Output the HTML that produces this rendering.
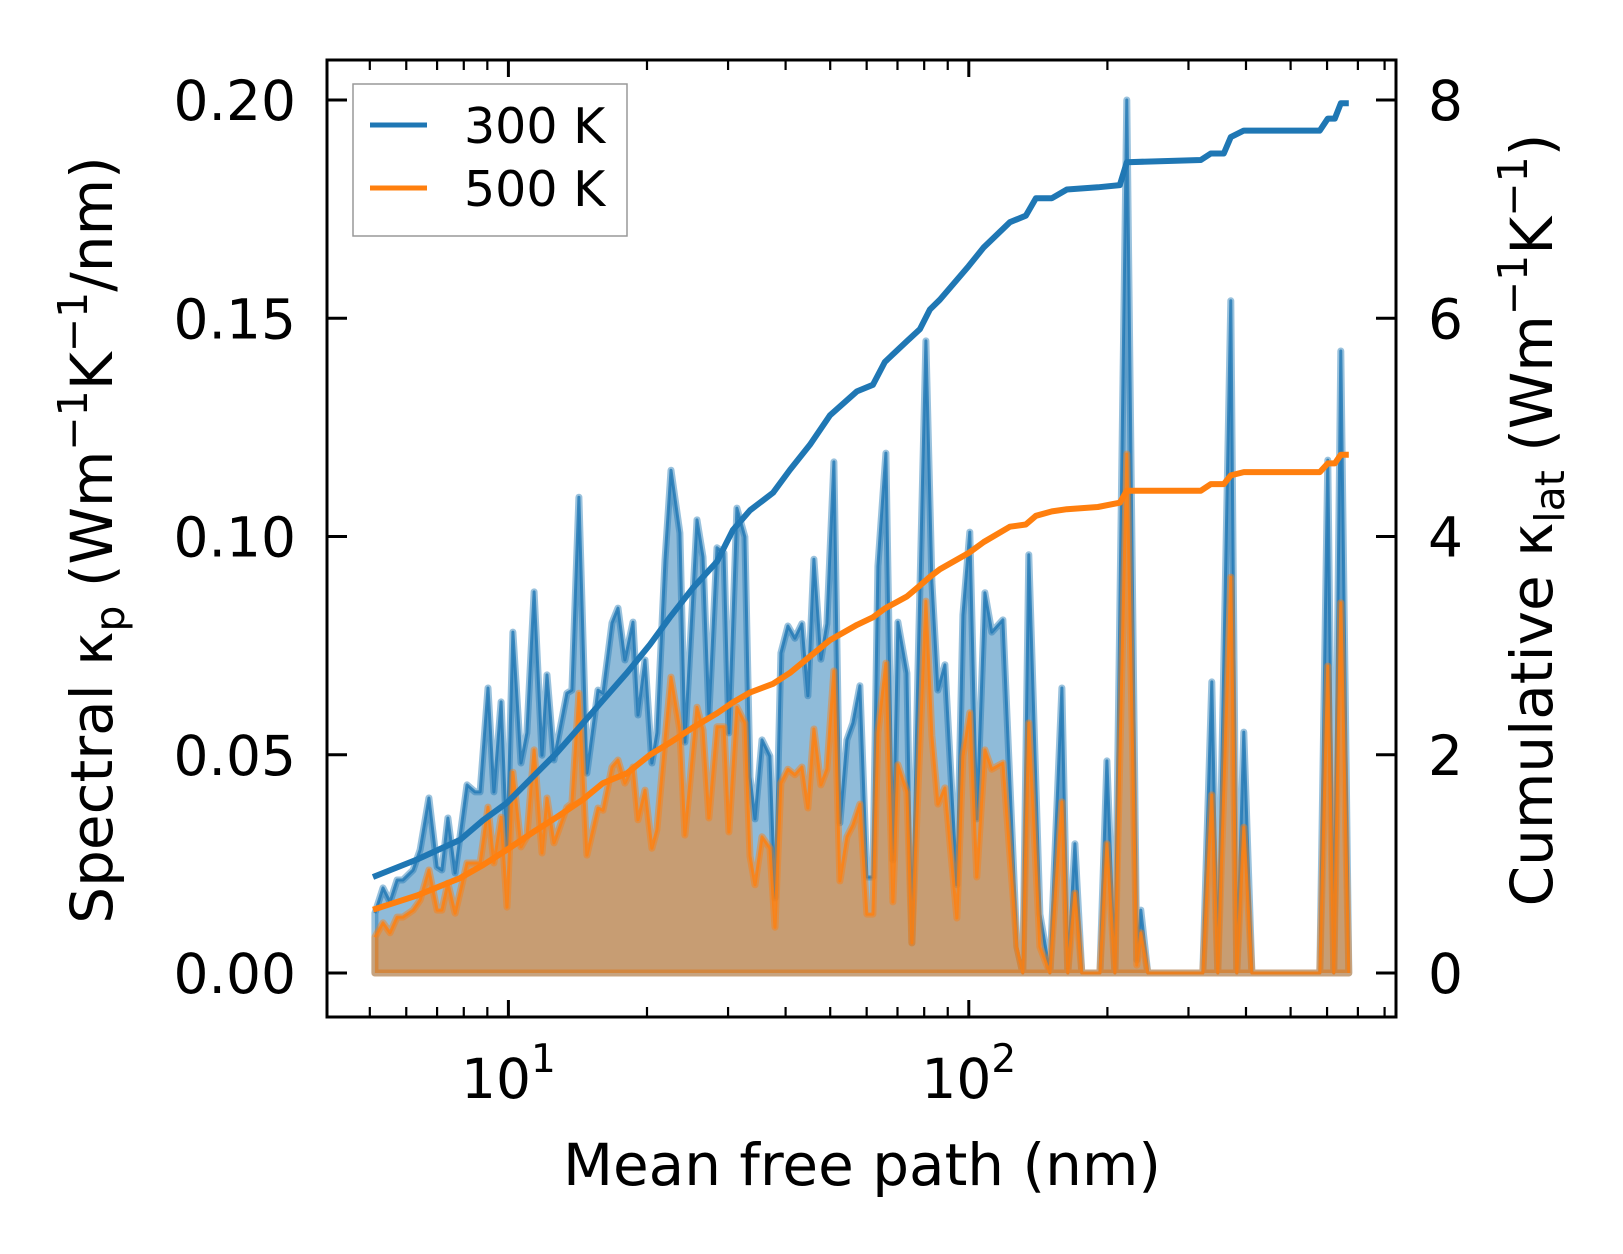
<!DOCTYPE html>
<html><head><meta charset="utf-8"><style>
html,body{margin:0;padding:0;background:#fff;}
svg{display:block;font-family:"DejaVu Sans","Liberation Sans",sans-serif;}
</style></head><body>
<svg id="chart" width="1623" height="1254" viewBox="0 0 1623 1254" xmlns="http://www.w3.org/2000/svg">
<g id="marks"></g>
<g id="axes"></g>
<text x="862" y="1185" text-anchor="middle" font-size="58">Mean free path (nm)</text>
<text transform="translate(112,540) rotate(-90)" text-anchor="middle" font-size="58">Spectral κ<tspan dy="12" font-size="41">p</tspan><tspan dy="-12"> (Wm</tspan><tspan dy="-25" font-size="41">−1</tspan><tspan dy="25">K</tspan><tspan dy="-25" font-size="41">−1</tspan><tspan dy="25">/nm)</tspan></text>
<text transform="translate(1552,520) rotate(-90)" text-anchor="middle" font-size="58">Cumulative κ<tspan dy="12" font-size="41">lat</tspan><tspan dy="-12"> (Wm</tspan><tspan dy="-25" font-size="41">−1</tspan><tspan dy="25">K</tspan><tspan dy="-25" font-size="41">−1</tspan><tspan dy="25">)</tspan></text>
</svg>
<script>
// ---- data ----
const mfp = [5.13,5.34,5.53,5.73,5.90,6.21,6.43,6.72,7.00,7.17,7.39,7.66,8.13,8.46,8.68,9.03,9.30,9.64,9.93,10.23,10.65,10.97,11.37,11.83,12.13,12.56,13.40,13.74,14.23,14.81,15.65,16.05,16.79,17.30,17.91,18.65,19.12,19.80,20.50,21.02,21.88,22.55,23.58,24.18,25.68,26.46,27.26,28.38,29.39,30.13,31.36,32.64,33.47,34.32,35.54,36.99,37.93,39.08,40.47,41.91,43.40,44.73,46.09,47.73,49.18,50.93,52.49,54.36,56.01,58.01,60.08,61.91,63.48,66.07,68.42,70.15,73.38,75.24,77.53,80.69,83.15,85.68,88.73,94.22,97.09,100.5,104.1,108.4,112.2,118.6,127.2,131.0,135.0,142.7,150.0,159.3,164.1,170.0,176.0,192.6,199.5,207.6,220.4,231.7,236.4,244.8,322.3,337.2,347.4,370.8,382.1,395.7,411.9,578.6,602.2,620.6,642.6,668.8];
const spec300 = [0.0137,0.0195,0.0163,0.0213,0.0213,0.0236,0.0282,0.0401,0.0243,0.0236,0.0355,0.0229,0.0431,0.0415,0.0415,0.0653,0.0415,0.0621,0.0289,0.0781,0.0481,0.0550,0.0873,0.0499,0.0683,0.0488,0.0641,0.0648,0.1090,0.0458,0.0648,0.0641,0.0802,0.0836,0.0717,0.0804,0.0591,0.0717,0.0481,0.0550,0.0946,0.1152,0.1008,0.0529,0.1038,0.0953,0.0591,0.0974,0.0962,0.0550,0.1065,0.0999,0.0449,0.0353,0.0534,0.0497,0.0172,0.0733,0.0795,0.0767,0.0800,0.0635,0.0948,0.0719,0.0800,0.1171,0.0344,0.0534,0.0573,0.0658,0.0220,0.0220,0.0932,0.1191,0.0259,0.0804,0.0687,0.0069,0.0687,0.1448,0.0896,0.0648,0.0706,0.0202,0.0820,0.1010,0.0353,0.0871,0.0781,0.0809,0.0060,0,0.0958,0.0135,0,0.0653,0,0.0296,0,0,0.0486,0,0.2000,0.003,0.0144,0,0,0.0667,0,0.1540,0,0.0552,0,0,0.1175,0,0.1425,0];
const spec500 = [0.0082,0.0115,0.0092,0.0128,0.0128,0.0144,0.0167,0.0236,0.0144,0.0144,0.0206,0.0137,0.0252,0.0252,0.0252,0.0380,0.0252,0.0357,0.0151,0.0460,0.0289,0.0312,0.0511,0.0275,0.0401,0.0298,0.0380,0.0389,0.0641,0.0270,0.0378,0.0373,0.0472,0.0488,0.0435,0.0472,0.0351,0.0419,0.0286,0.0328,0.0534,0.0678,0.0557,0.0316,0.0609,0.0557,0.0355,0.0564,0.0564,0.0323,0.0609,0.0573,0.0268,0.0202,0.0312,0.0286,0.0105,0.0435,0.0467,0.0454,0.0472,0.0378,0.0559,0.0431,0.0467,0.0692,0.0211,0.0312,0.0339,0.0387,0.0135,0.0135,0.0550,0.0710,0.0163,0.0477,0.0415,0.0069,0.0415,0.0852,0.0543,0.0387,0.0424,0.0126,0.0497,0.0596,0.0220,0.0511,0.0467,0.0481,0.0060,0,0.0573,0.0060,0,0.0392,0,0.0183,0,0,0.0296,0,0.1189,0.0018,0.0092,0,0,0.0408,0,0.0907,0,0.0334,0,0,0.0703,0,0.0848,0];
const cumMfp = [5.08,6.33,7.85,8.81,9.93,11.31,12.75,14.52,16.05,18.09,20.30,22.43,25.17,28.38,30.74,33.47,37.55,40.88,45.18,49.93,57.15,61.91,65.74,73.38,78.31,82.32,86.54,100.0,107.8,122.8,133.0,139.9,151.5,163.3,190.7,212.8,220.4,319.1,335.5,358.0,370.8,395.7,578.6,602.2,623.7,642.6,668.8];
const cum300 = [0.88,1.04,1.22,1.40,1.56,1.80,2.02,2.29,2.50,2.75,3.01,3.26,3.53,3.77,4.06,4.24,4.40,4.61,4.84,5.11,5.33,5.39,5.60,5.79,5.90,6.08,6.17,6.48,6.65,6.88,6.94,7.10,7.10,7.18,7.20,7.22,7.43,7.45,7.51,7.51,7.66,7.72,7.72,7.83,7.83,7.97,7.97];
const cum500 = [0.58,0.71,0.87,0.99,1.13,1.29,1.43,1.59,1.74,1.83,2.00,2.11,2.25,2.38,2.48,2.57,2.65,2.75,2.90,3.05,3.19,3.26,3.34,3.45,3.55,3.63,3.70,3.85,3.95,4.09,4.11,4.19,4.23,4.25,4.27,4.31,4.42,4.42,4.48,4.48,4.56,4.59,4.59,4.67,4.67,4.75,4.75];
const yTicksLeft = [0, 0.05, 0.10, 0.15, 0.20];
const yTickLabelsLeft = ["0.00","0.05","0.10","0.15","0.20"];
const yTicksRight = [0, 2, 4, 6, 8];
const xMajor = [10, 100];
const xMinor = [5,6,7,8,9,20,30,40,50,60,70,80,90,200,300,400,500,600,700,800];
const legendLabels = ["300 K", "500 K"];

// ---- axis functions ----
const L=327, R=1396, T=60, B=1017;
const X0=508.4, DEC=460.4;
function xs(v){ return X0 + (Math.log10(v)-1)*DEC; }
function yl(v){ return 973 - v*4365; }
function yr(v){ return 973 - v*109.125; }
const NS="http://www.w3.org/2000/svg";
function mk(tag, attrs, parent){ const e=document.createElementNS(NS,tag); for(const k in attrs) e.setAttribute(k, attrs[k]); parent.appendChild(e); return e; }
const marks=document.getElementById('marks'), axes=document.getElementById('axes');

function areaPath(xv, yv){
  let d = "M"+xs(xv[0]).toFixed(1)+","+yl(0).toFixed(1);
  for(let i=0;i<xv.length;i++) d += "L"+xs(xv[i]).toFixed(1)+","+yl(yv[i]).toFixed(1);
  d += "L"+xs(xv[xv.length-1]).toFixed(1)+","+yl(0).toFixed(1)+"Z";
  return d;
}
function linePath(xv, yv, yf){
  let d="";
  for(let i=0;i<xv.length;i++) d += (i?"L":"M")+xs(xv[i]).toFixed(1)+","+yf(yv[i]).toFixed(1);
  return d;
}
const series=[{v:spec300,c:"#1f77b4",n:"300k"},{v:spec500,c:"#ff7f0e",n:"500k"}];
series.forEach(s=>{
  const a=mk('path',{d:areaPath(mfp,s.v),fill:s.c,'fill-opacity':0.5,stroke:s.c,'stroke-opacity':0.45,'stroke-width':7,'stroke-linejoin':'round'},marks);
  
  
  const l=mk('path',{d:linePath(mfp,s.v,yl),fill:'none',stroke:s.c,'stroke-opacity':0.8,'stroke-width':3,'stroke-linejoin':'round'},marks);
  
  
});
[{v:cum300,c:"#1f77b4",n:"300k"},{v:cum500,c:"#ff7f0e",n:"500k"}].forEach(s=>{
  const l=mk('path',{d:linePath(cumMfp,s.v,yr),fill:'none',stroke:s.c,'stroke-width':6,'stroke-linejoin':'round'},marks);
  
  
});

// ticks
yTicksLeft.forEach((v,i)=>{
  const y=yl(v);
  const t=mk('line',{x1:L,x2:L+20,y1:y,y2:y,stroke:'#000','stroke-width':3},axes);
  
  
  const tx=mk('text',{x:296,y:y+20,'text-anchor':'end','font-size':55},axes);
  tx.textContent=yTickLabelsLeft[i];
  
  
});
yTicksRight.forEach(v=>{
  const y=yr(v);
  const t=mk('line',{x1:R-20,x2:R,y1:y,y2:y,stroke:'#000','stroke-width':3},axes);
  
  
  const tx=mk('text',{x:1428,y:y+20,'text-anchor':'start','font-size':55},axes);
  tx.textContent=String(v);
  
  
});
xMajor.forEach(v=>{
  const x=xs(v);
  [[B,B-17],[T,T+17]].forEach(p=>{
    const t=mk('line',{x1:x,x2:x,y1:p[0],y2:p[1],stroke:'#000','stroke-width':3},axes);
    
    
  });
  const tx=mk('text',{x:x,y:1098,'text-anchor':'middle','font-size':55},axes);
  
  
  tx.textContent="10";
  const sp=mk('tspan',{dy:-26,'font-size':39},tx);
  sp.textContent=String(Math.round(Math.log10(v)));
});
xMinor.forEach(v=>{
  const x=xs(v);
  [[B,B-10],[T,T+10]].forEach(p=>{
    const t=mk('line',{x1:x,x2:x,y1:p[0],y2:p[1],stroke:'#000','stroke-width':2.2},axes);
    
    
  });
});
const frame=mk('rect',{x:L,y:T,width:R-L,height:B-T,fill:'none',stroke:'#000','stroke-width':3},axes);



// legend
const lg=mk('g',{},axes);


mk('rect',{x:353,y:84,width:274,height:152,fill:'#fff','fill-opacity':0.8,stroke:'#999','stroke-width':1.5},lg);
["#1f77b4","#ff7f0e"].forEach((c,i)=>{
  const y=125+i*63;
  const ln=mk('line',{x1:370,x2:427,y1:y,y2:y,stroke:c,'stroke-width':5},lg);
  
  
  const t=mk('text',{x:464,y:y+18,'font-size':49},lg);
  t.textContent=legendLabels[i];
  
  
});
</script>
</body></html>
